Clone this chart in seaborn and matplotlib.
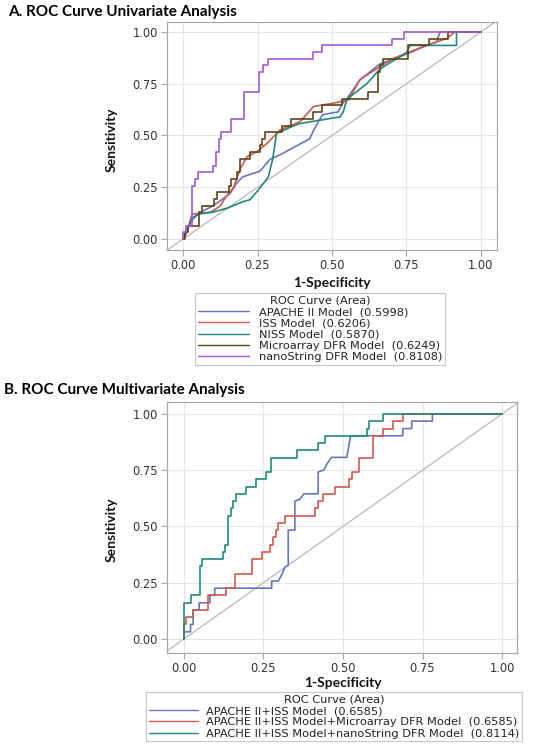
import numpy as np
import pandas as pd
import matplotlib
matplotlib.use("Agg")
import matplotlib.pyplot as plt
from matplotlib.lines import Line2D
import seaborn as sns

# ---------------- Panel A data (univariate) ----------------
models_a = ["APACHE II Model", "ISS Model", "NISS Model",
            "Microarray DFR Model", "nanoString DFR Model"]
auc_a = ["0.5998", "0.6206", "0.5870", "0.6249", "0.8108"]

apache_fpr = [0, 0.012, 0.02, 0.035, 0.06, 0.10, 0.13, 0.158, 0.18, 0.20, 0.258, 0.292, 0.33,
              0.425, 0.44, 0.468, 0.52, 0.538, 0.55, 0.594, 0.63, 0.66, 0.718, 0.762, 0.818,
              0.85, 0.863, 1.0]
apache_tpr = [0, 0.03, 0.065, 0.10, 0.13, 0.16, 0.19, 0.22, 0.27, 0.30, 0.328, 0.385, 0.41,
              0.484, 0.53, 0.60, 0.614, 0.66, 0.677, 0.77, 0.81, 0.845, 0.875, 0.90, 0.935,
              0.95, 1.0, 1.0]

iss_fpr = [0, 0.01, 0.019, 0.03, 0.06, 0.092, 0.125, 0.142, 0.17, 0.192, 0.215, 0.248, 0.282,
           0.326, 0.393, 0.438, 0.505, 0.555, 0.594, 0.628, 0.673, 0.706, 0.762, 0.818, 0.885,
           0.913, 1.0]
iss_tpr = [0, 0.03, 0.065, 0.12, 0.125, 0.129, 0.16, 0.20, 0.25, 0.34, 0.398, 0.422, 0.462,
           0.527, 0.567, 0.64, 0.656, 0.672, 0.77, 0.802, 0.843, 0.872, 0.904, 0.936, 0.968,
           1.0, 1.0]

niss_fpr = [0, 0.008, 0.02, 0.03, 0.05, 0.10, 0.15, 0.20, 0.225, 0.26, 0.286, 0.30, 0.314,
            0.37, 0.393, 0.527, 0.538, 0.55, 0.617, 0.66, 0.718, 0.75, 0.762, 0.918, 0.918, 1.0]
niss_tpr = [0, 0.03, 0.065, 0.10, 0.12, 0.13, 0.15, 0.18, 0.19, 0.25, 0.30, 0.38, 0.51,
            0.546, 0.558, 0.59, 0.615, 0.675, 0.75, 0.82, 0.872, 0.90, 0.935, 0.935, 1.0, 1.0]

micro_fpr = [0, 0.008, 0.008, 0.016, 0.016, 0.052, 0.052, 0.064, 0.064, 0.103, 0.103, 0.114,
             0.114, 0.153, 0.153, 0.161, 0.161, 0.181, 0.181, 0.192, 0.192, 0.226, 0.226, 0.257,
             0.257, 0.265, 0.265, 0.274, 0.274, 0.332, 0.332, 0.362, 0.362, 0.435, 0.435, 0.466,
             0.466, 0.533, 0.533, 0.622, 0.622, 0.654, 0.654, 0.66, 0.66, 0.67, 0.67, 0.754,
             0.754, 0.827, 0.827, 0.888, 0.888, 1.0]
micro_tpr = [0, 0, 0.032, 0.032, 0.065, 0.065, 0.129, 0.129, 0.161, 0.161, 0.194, 0.194,
             0.226, 0.226, 0.258, 0.258, 0.290, 0.290, 0.323, 0.323, 0.387, 0.387, 0.419, 0.419,
             0.452, 0.452, 0.484, 0.484, 0.516, 0.516, 0.548, 0.548, 0.581, 0.581, 0.613, 0.613,
             0.645, 0.645, 0.677, 0.677, 0.710, 0.710, 0.806, 0.806, 0.839, 0.839, 0.871, 0.871,
             0.935, 0.935, 0.968, 0.968, 1.0, 1.0]

nano_fpr = [0, 0, 0.010, 0.010, 0.031, 0.031, 0.041, 0.041, 0.051, 0.051, 0.100, 0.100, 0.110,
            0.110, 0.120, 0.120, 0.126, 0.126, 0.162, 0.162, 0.206, 0.206, 0.255, 0.255, 0.270,
            0.270, 0.285, 0.285, 0.435, 0.435, 0.466, 0.466, 0.702, 0.702, 0.741, 0.741, 1.0]
nano_tpr = [0, 0.032, 0.032, 0.065, 0.065, 0.258, 0.258, 0.290, 0.290, 0.323, 0.323, 0.355,
            0.355, 0.419, 0.419, 0.484, 0.484, 0.516, 0.516, 0.581, 0.581, 0.710, 0.710, 0.806,
            0.806, 0.839, 0.839, 0.871, 0.871, 0.903, 0.903, 0.935, 0.935, 0.968, 0.968, 1.0, 1.0]

# ---------------- Panel B data (multivariate) ----------------
models_b = ["APACHE II+ISS Model", "APACHE II+ISS Model+Microarray DFR Model",
            "APACHE II+ISS Model+nanoString DFR Model"]
auc_b = ["0.6585", "0.6585", "0.8114"]

ai_fpr = [0, 0, 0.021, 0.021, 0.029, 0.029, 0.048, 0.048, 0.082, 0.082, 0.097, 0.097, 0.276,
          0.276, 0.297, 0.31, 0.318, 0.328, 0.328, 0.349, 0.349, 0.365, 0.377, 0.422, 0.422,
          0.44, 0.449, 0.464, 0.512, 0.52, 0.524, 0.688, 0.688, 0.716, 0.716, 0.781, 0.781, 1.0]
ai_tpr = [0, 0.032, 0.032, 0.065, 0.065, 0.129, 0.129, 0.161, 0.161, 0.194, 0.194, 0.226,
          0.226, 0.258, 0.258, 0.292, 0.321, 0.327, 0.484, 0.484, 0.613, 0.621, 0.645, 0.645,
          0.742, 0.751, 0.776, 0.807, 0.807, 0.87, 0.903, 0.903, 0.935, 0.935, 0.968, 0.968,
          1.0, 1.0]

aim_fpr = [0, 0, 0.008, 0.008, 0.029, 0.029, 0.077, 0.077, 0.132, 0.132, 0.16, 0.16, 0.213,
           0.213, 0.244, 0.244, 0.27, 0.27, 0.28, 0.28, 0.289, 0.289, 0.297, 0.297, 0.318,
           0.318, 0.412, 0.412, 0.422, 0.422, 0.438, 0.438, 0.475, 0.475, 0.52, 0.52, 0.527,
           0.527, 0.551, 0.551, 0.593, 0.593, 0.625, 0.625, 0.658, 0.658, 0.69, 0.69, 1.0]
aim_tpr = [0, 0.065, 0.065, 0.097, 0.097, 0.129, 0.129, 0.194, 0.194, 0.226, 0.226, 0.29,
           0.29, 0.355, 0.355, 0.387, 0.387, 0.419, 0.419, 0.452, 0.452, 0.484, 0.484, 0.516,
           0.516, 0.548, 0.548, 0.581, 0.581, 0.613, 0.613, 0.645, 0.645, 0.677, 0.677, 0.71,
           0.71, 0.742, 0.742, 0.806, 0.806, 0.903, 0.903, 0.935, 0.935, 0.968, 0.968, 1.0, 1.0]

ain_fpr = [0, 0, 0.021, 0.021, 0.05, 0.05, 0.057, 0.057, 0.122, 0.122, 0.129, 0.129, 0.139,
           0.139, 0.148, 0.148, 0.155, 0.155, 0.164, 0.164, 0.195, 0.195, 0.226, 0.226, 0.258,
           0.258, 0.274, 0.274, 0.357, 0.357, 0.422, 0.422, 0.443, 0.443, 0.574, 0.574, 0.583,
           0.583, 0.627, 0.627, 1.0]
ain_tpr = [0, 0.161, 0.161, 0.194, 0.194, 0.323, 0.323, 0.355, 0.355, 0.387, 0.387, 0.419,
           0.419, 0.548, 0.548, 0.581, 0.581, 0.613, 0.613, 0.645, 0.645, 0.677, 0.677, 0.71,
           0.71, 0.742, 0.742, 0.806, 0.806, 0.839, 0.839, 0.871, 0.871, 0.903, 0.903, 0.935,
           0.935, 0.968, 0.968, 1.0, 1.0]

ticks = [0.00, 0.25, 0.50, 0.75, 1.00]
tick_labels = ["0.00", "0.25", "0.50", "0.75", "1.00"]

colors_a = ["#6575C2", "#D3584B", "#20897A", "#5E4418", "#A05AD4"]
colors_b = ["#6575C2", "#D3584B", "#20897A"]


def make_df(names, aucs, curves):
    rows = []
    for name, auc, (fx, fy) in zip(names, aucs, curves):
        lab = f"{name}  ({auc})"
        for i, (x, y) in enumerate(zip(fx, fy)):
            rows.append({"model": lab, "order": i, "fpr": x, "tpr": y})
    return pd.DataFrame(rows)


df_a = make_df(models_a, auc_a, [(apache_fpr, apache_tpr), (iss_fpr, iss_tpr),
                                 (niss_fpr, niss_tpr), (micro_fpr, micro_tpr),
                                 (nano_fpr, nano_tpr)])
df_b = make_df(models_b, auc_b, [(ai_fpr, ai_tpr), (aim_fpr, aim_tpr), (ain_fpr, ain_tpr)])

sns.set_theme(style="whitegrid")
plt.rcParams["font.family"] = ["DejaVu Sans"]

W, H = 550, 749
fig = plt.figure(figsize=(W / 100, H / 100), dpi=100)


def px_axes(l, t, r, b):
    return fig.add_axes([l / W, 1 - b / H, (r - l) / W, (b - t) / H])


label_font = dict(family=["Lato", "DejaVu Sans"], weight="bold", size=10, color="#111111")
tick_font_size = 8.3
leg_size = 8.2


def style_axes(ax, xlim, ylim):
    ax.set_xlim(*xlim)
    ax.set_ylim(*ylim)
    ax.set_xticks(ticks)
    ax.set_xticklabels(tick_labels)
    ax.set_yticks(ticks)
    ax.set_yticklabels(tick_labels)
    ax.grid(True, color="#E6E6E6", lw=0.8)
    ax.set_axisbelow(True)
    for s in ax.spines.values():
        s.set_color("#A8A8A8")
        s.set_linewidth(0.9)
    ax.tick_params(axis="both", which="major", bottom=True, left=True, length=4.5,
                   width=0.8, color="#A8A8A8", labelsize=tick_font_size,
                   labelcolor="#333333", pad=2)
    ax.axline((0, 0), (1, 1), color="#B8B8B8", lw=0.9, zorder=1)


def draw_panel(ax, df, palette, lw):
    sns.lineplot(data=df, x="fpr", y="tpr", hue="model", palette=palette, sort=False,
                 estimator=None, units="model", legend=False, lw=lw, ax=ax, zorder=3)


def make_legend(names, aucs, colors, x0, y0, hl, htp):
    handles = [Line2D([], [], color=c, lw=1.0) for c in colors]
    labels = [f"{m}  ({a})" for m, a in zip(names, aucs)]
    leg = fig.legend(handles, labels, title="ROC Curve (Area)", loc="upper left",
                     bbox_to_anchor=(x0 / W, 1 - y0 / H), fontsize=leg_size,
                     title_fontsize=leg_size, frameon=True, fancybox=False,
                     edgecolor="#C8C8C8", framealpha=1, borderpad=0.25, labelspacing=0.1,
                     handlelength=hl, handletextpad=htp, borderaxespad=0)
    leg.get_frame().set_linewidth(0.8)
    leg._legend_box.sep = 1
    for t in leg.get_texts():
        t.set_color("#222222")
    leg.get_title().set_color("#222222")
    return leg


# ---------------- Panel A ----------------
axA = px_axes(167, 22, 497, 250)
draw_panel(axA, df_a, colors_a, 1.2)
style_axes(axA, (-0.054, 1.054), (-0.053, 1.048))
axA.set_xlabel("1-Specificity", **label_font)
axA.set_ylabel("Sensitivity", **label_font)
axA.xaxis.set_label_coords(0.5, -0.145)
axA.xaxis.label.set_va("center")
axA.yaxis.set_label_coords(-0.167, 0.482)
axA.yaxis.label.set_va("center")
make_legend(models_a, auc_a, colors_a, 195, 293, 4.5, 0.85)

# ---------------- Panel B ----------------
axB = px_axes(167, 402, 517, 653)
draw_panel(axB, df_b, colors_b, 1.2)
style_axes(axB, (-0.053, 1.047), (-0.062, 1.053))
axB.set_xlabel("1-Specificity", **label_font)
axB.set_ylabel("Sensitivity", **label_font)
axB.xaxis.set_label_coords(0.503, -0.118)
axB.xaxis.label.set_va("center")
axB.yaxis.set_label_coords(-0.157, 0.49)
axB.yaxis.label.set_va("center")
make_legend(models_b, auc_b, colors_b, 146, 692, 4.3, 0.7)

# ---------------- Titles ----------------
title_font = dict(family=["Lato", "DejaVu Sans"], weight="bold", size=11, color="#000000")
fig.text(8 / W, 1 - 12 / H, "A. ROC Curve Univariate Analysis", ha="left", va="center",
         **title_font)
fig.text(4 / W, 1 - 390 / H, "B. ROC Curve Multivariate Analysis", ha="left", va="center",
         **title_font)

fig.savefig("out.png", dpi=100)
